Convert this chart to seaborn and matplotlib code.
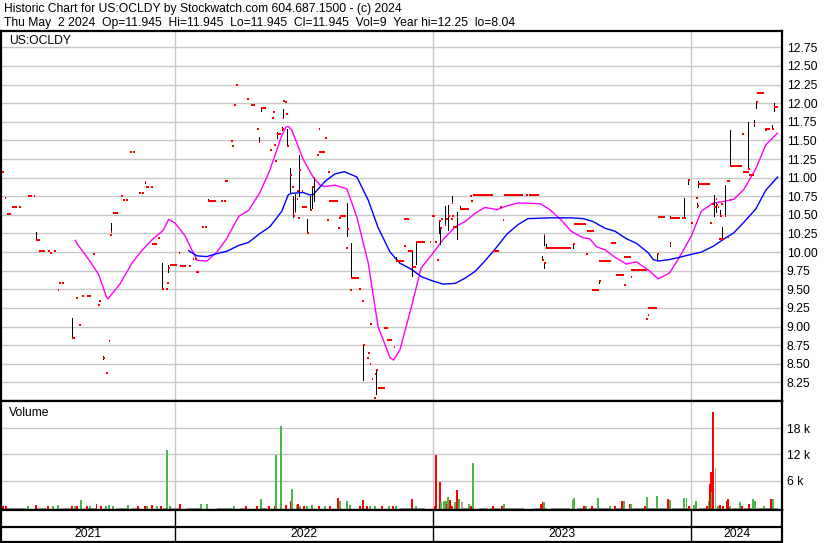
import pandas as pd
import matplotlib
matplotlib.use("Agg")
import matplotlib.pyplot as plt
import seaborn as sns

# --- Data ---
# red close ticks (single trading days)
tick_dates = [
    "2021-05-02", "2021-05-05", "2021-05-26", "2021-06-15", "2021-06-19", "2021-06-22", "2021-07-06",
    "2021-07-08", "2021-07-14", "2021-07-19", "2021-07-21", "2021-07-25", "2021-08-09", "2021-08-14",
    "2021-08-18", "2021-08-23", "2021-09-07", "2021-09-14", "2021-09-21", "2021-09-26", "2021-09-29",
    "2021-10-01", "2021-10-02", "2021-10-17", "2021-10-20", "2021-10-24", "2021-10-29", "2021-11-03",
    "2021-11-11", "2021-11-15", "2021-11-19", "2021-11-28", "2021-12-08", "2021-12-14", "2021-12-19",
    "2021-12-21", "2021-12-22", "2022-01-06", "2022-01-21", "2022-01-26", "2022-01-29", "2022-02-08",
    "2022-02-12", "2022-02-16", "2022-03-07", "2022-03-11", "2022-03-21", "2022-03-23", "2022-03-26",
    "2022-03-28", "2022-04-13", "2022-04-27", "2022-04-29", "2022-05-03", "2022-05-15", "2022-05-18",
    "2022-05-20", "2022-05-21", "2022-05-23", "2022-05-25", "2022-06-01", "2022-06-02", "2022-06-03",
    "2022-06-06", "2022-06-07", "2022-06-08", "2022-06-13", "2022-06-15", "2022-06-17", "2022-06-19",
    "2022-06-22", "2022-06-23", "2022-06-24", "2022-06-25", "2022-06-29", "2022-07-07", "2022-07-11",
    "2022-07-14", "2022-07-16", "2022-07-21", "2022-07-23", "2022-08-01", "2022-08-04", "2022-08-05",
    "2022-08-20", "2022-08-21", "2022-08-31", "2022-09-01", "2022-09-06", "2022-09-07", "2022-09-18",
    "2022-09-22", "2022-09-24", "2022-09-29", "2022-10-01", "2022-10-03", "2022-10-04", "2022-10-06",
    "2022-10-09", "2022-10-10", "2022-10-12", "2022-11-06", "2022-11-10", "2022-11-21", "2022-12-02",
    "2022-12-08", "2022-12-27", "2023-01-04", "2023-01-06", "2023-01-09", "2023-01-11", "2023-01-12",
    "2023-01-17", "2023-01-19", "2023-01-22", "2023-01-26", "2023-01-27", "2023-01-28", "2023-02-03",
    "2023-02-08", "2023-02-22", "2023-02-24", "2023-04-06", "2023-04-09", "2023-05-12", "2023-06-04",
    "2023-06-06", "2023-06-07", "2023-06-09", "2023-07-18", "2023-08-05", "2023-08-23", "2023-09-28",
    "2023-10-07", "2023-10-29", "2023-10-31", "2023-11-14", "2023-12-01", "2023-12-02", "2023-12-22",
    "2023-12-27", "2024-01-01", "2024-01-07", "2024-01-08", "2024-01-09", "2024-01-10", "2024-01-27",
    "2024-01-30", "2024-02-02", "2024-02-04", "2024-02-05", "2024-02-07", "2024-02-11", "2024-02-12",
    "2024-02-13", "2024-02-17", "2024-02-20", "2024-02-21", "2024-02-22", "2024-02-24", "2024-02-25",
    "2024-03-13", "2024-03-21", "2024-03-29", "2024-04-01", "2024-04-14", "2024-04-24", "2024-04-26",
]
tick_close = [
    11.07, 10.73, 10.60, 10.76, 10.16, 10.16, 10.02,
    9.99, 10.01, 9.49, 9.58, 9.58, 8.84, 9.39,
    9.02, 9.41, 9.98, 9.29, 8.58, 8.37, 8.81,
    10.23, 10.27, 10.76, 10.70, 10.70, 11.34, 11.34,
    10.80, 10.80, 10.94, 10.87, 10.19, 9.50, 9.50,
    9.58, 9.78, 9.99, 9.82, 9.91, 9.91, 10.34,
    10.34, 10.69, 10.69, 10.69, 11.49, 11.42, 11.98,
    12.25, 12.05, 11.65, 11.48, 11.93, 11.37, 11.80,
    11.88, 11.44, 11.22, 11.59, 11.66, 11.80, 12.03,
    12.01, 11.85, 11.42, 11.03, 10.88, 10.48, 10.54,
    10.72, 10.82, 10.46, 11.10, 10.82, 10.26, 10.56,
    10.88, 11.00, 11.30, 11.66, 11.53, 10.43, 11.07,
    10.33, 10.46, 10.06, 10.31, 9.49, 9.65, 9.51,
    9.34, 8.75, 8.58, 8.65, 8.50, 9.03, 8.30,
    8.04, 8.36, 8.42, 8.72, 9.88, 10.08, 9.80,
    10.14, 10.14, 10.13, 9.89, 10.42, 10.33, 10.45,
    10.37, 10.45, 10.48, 10.45, 10.66, 10.49, 10.47,
    10.58, 10.75, 10.69, 10.61, 10.43, 10.77, 9.90,
    10.23, 9.85, 10.05, 10.11, 9.97, 9.61, 9.56,
    9.66, 9.10, 9.16, 9.97, 10.10, 10.46, 10.46,
    10.97, 10.39, 10.39, 10.73, 10.62, 10.92, 10.39,
    10.64, 10.61, 10.72, 10.63, 10.61, 10.48, 10.64,
    10.18, 10.48, 10.95, 10.20, 10.95, 10.70, 11.16,
    11.58, 11.12, 11.72, 12.02, 11.64, 11.66, 11.945,
]

# black high-low lines
range_dates = [
    "2021-06-19", "2021-08-09", "2021-09-21", "2021-10-02", "2021-11-19", "2021-12-14", "2021-12-22",
    "2022-02-16", "2022-04-29", "2022-05-03", "2022-05-25", "2022-06-01", "2022-06-02", "2022-06-08",
    "2022-06-13", "2022-06-17", "2022-06-19", "2022-06-25", "2022-07-07", "2022-07-11", "2022-07-14",
    "2022-07-16", "2022-09-01", "2022-09-07", "2022-09-24", "2022-10-12", "2022-11-10", "2022-12-02",
    "2022-12-08", "2023-01-09", "2023-01-11", "2023-01-17", "2023-01-22", "2023-01-27", "2023-02-03",
    "2023-02-08", "2023-06-04", "2023-06-06", "2023-06-07", "2023-06-09", "2023-07-18", "2023-08-23",
    "2023-11-14", "2023-12-01", "2023-12-02", "2023-12-22", "2023-12-27", "2024-01-09", "2024-01-10",
    "2024-02-02", "2024-02-05", "2024-02-11", "2024-02-13", "2024-02-17", "2024-02-25", "2024-03-21",
    "2024-03-29", "2024-04-01", "2024-04-24", "2024-04-26",
]
range_low = [
    10.16, 8.84, 8.56, 10.27, 10.93, 9.50, 9.73,
    10.69, 11.48, 11.90, 11.53, 11.64, 11.80, 11.42,
    10.81, 10.47, 10.54, 10.75, 10.26, 10.56, 10.59,
    10.69, 10.21, 9.65, 8.28, 8.10, 9.88, 9.68,
    9.84, 10.25, 10.11, 10.37, 10.30, 10.66, 10.18,
    10.58, 9.90, 10.10, 9.79, 10.05, 10.05, 9.58,
    9.91, 10.08, 10.46, 10.46, 10.91, 10.60, 10.88,
    10.48, 10.54, 10.48, 10.18, 10.48, 11.16, 11.12,
    11.69, 11.93, 11.66, 11.90,
]
range_high = [
    10.27, 9.11, 8.60, 10.39, 10.96, 9.85, 9.83,
    10.71, 11.55, 11.95, 11.62, 11.68, 11.92, 11.65,
    11.13, 10.75, 10.78, 11.31, 10.45, 10.75, 10.88,
    11.00, 10.66, 10.12, 8.77, 8.42, 9.93, 10.00,
    10.14, 10.42, 10.33, 10.62, 10.63, 10.75, 10.54,
    10.62, 9.95, 10.23, 9.87, 10.11, 10.11, 9.63,
    9.97, 10.13, 10.49, 10.73, 10.97, 10.66, 10.96,
    10.77, 10.66, 10.56, 10.34, 10.90, 11.64, 11.75,
    11.77, 12.02, 11.71, 12.00,
]

# stretches of days at an unchanged close
run_start = [
    "2021-05-08", "2021-05-16", "2021-06-07", "2021-06-23", "2021-08-09", "2021-08-30", "2021-09-15",
    "2021-10-06", "2021-11-21", "2021-11-30", "2021-12-25", "2022-01-08", "2022-01-30", "2022-02-16",
    "2022-03-12", "2022-04-19", "2022-05-04", "2022-05-25", "2022-06-30", "2022-07-23", "2022-08-06",
    "2022-08-22", "2022-09-07", "2022-10-15", "2022-10-24", "2022-10-28", "2022-11-10", "2022-11-21",
    "2022-11-27", "2022-12-02", "2022-12-08", "2022-12-30", "2023-01-29", "2023-02-08", "2023-02-26",
    "2023-03-26", "2023-04-11", "2023-05-17", "2023-06-09", "2023-07-19", "2023-08-06", "2023-08-14",
    "2023-08-23", "2023-09-09", "2023-09-16", "2023-09-28", "2023-10-07", "2023-11-01", "2023-11-15",
    "2023-12-02", "2023-12-18", "2024-01-11", "2024-02-09", "2024-02-25", "2024-03-14", "2024-03-22",
    "2024-04-02", "2024-04-14", "2024-04-26",
]
run_end = [
    "2021-05-14", "2021-05-23", "2021-06-13", "2021-07-01", "2021-08-13", "2021-09-04", "2021-09-19",
    "2021-10-12", "2021-11-25", "2021-12-07", "2022-01-04", "2022-01-17", "2022-02-04", "2022-02-28",
    "2022-03-17", "2022-04-24", "2022-05-09", "2022-05-31", "2022-07-06", "2022-08-01", "2022-08-20",
    "2022-08-30", "2022-09-18", "2022-10-25", "2022-10-29", "2022-11-04", "2022-11-20", "2022-11-28",
    "2022-12-03", "2022-12-08", "2022-12-21", "2023-01-04", "2023-02-03", "2023-02-21", "2023-03-26",
    "2023-04-04", "2023-05-08", "2023-05-31", "2023-07-15", "2023-08-05", "2023-08-16", "2023-08-23",
    "2023-09-09", "2023-09-17", "2023-09-27", "2023-10-07", "2023-10-30", "2023-11-14", "2023-11-24",
    "2023-12-16", "2023-12-24", "2024-01-27", "2024-02-16", "2024-03-12", "2024-03-22", "2024-03-29",
    "2024-04-12", "2024-04-21", "2024-05-03",
]
run_price = [
    10.51, 10.60, 10.76, 10.02, 8.84, 9.41, 9.34,
    10.52, 10.87, 10.11, 9.83, 9.82, 9.73, 10.69,
    10.96, 11.98, 11.93, 11.59, 10.61, 11.34, 10.69,
    10.48, 9.65, 8.17, 8.98, 8.82, 9.88, 10.44,
    10.02, 9.80, 10.14, 10.49, 10.34, 10.58, 10.77,
    10.02, 10.77, 10.77, 10.05, 10.38, 10.29, 9.49,
    9.88, 10.12, 9.69, 9.93, 9.76, 9.25, 10.47,
    10.46, 10.46, 10.92, 10.18, 11.16, 11.08, 11.03,
    12.14, 11.66, 11.945,
]

# moving averages (magenta = short, blue = long)
ma_short_dates = [
    "2021-08-13", "2021-08-15", "2021-09-01", "2021-09-15", "2021-09-26", "2021-09-28", "2021-10-15",
    "2021-11-01", "2021-11-15", "2021-12-01", "2021-12-15", "2021-12-23", "2022-01-01", "2022-01-15",
    "2022-02-01", "2022-02-15", "2022-03-01", "2022-03-15", "2022-04-01", "2022-04-15", "2022-05-01",
    "2022-05-15", "2022-06-01", "2022-06-07", "2022-06-10", "2022-06-15", "2022-07-01", "2022-07-15",
    "2022-07-25", "2022-08-01", "2022-08-15", "2022-09-01", "2022-09-15", "2022-10-01", "2022-10-15",
    "2022-11-01", "2022-11-06", "2022-11-15", "2022-12-01", "2022-12-15", "2023-01-01", "2023-01-15",
    "2023-02-01", "2023-02-15", "2023-03-01", "2023-03-15", "2023-04-01", "2023-04-15", "2023-05-01",
    "2023-06-01", "2023-06-15", "2023-07-01", "2023-07-15", "2023-08-01", "2023-08-10", "2023-08-20",
    "2023-09-01", "2023-09-15", "2023-10-01", "2023-10-15", "2023-11-01", "2023-11-15", "2023-12-01",
    "2023-12-15", "2024-01-01", "2024-01-15", "2024-02-01", "2024-02-15", "2024-03-01", "2024-03-15",
    "2024-04-01", "2024-04-15", "2024-05-02",
]
ma_short = [
    10.16, 10.12, 9.90, 9.70, 9.40, 9.37, 9.57,
    9.85, 10.02, 10.18, 10.29, 10.44, 10.39, 10.22,
    9.89, 9.88, 10.00, 10.18, 10.48, 10.56, 10.80,
    11.10, 11.57, 11.68, 11.69, 11.64, 11.25, 11.01,
    10.90, 10.88, 10.90, 10.85, 10.47, 9.86, 9.00,
    8.58, 8.55, 8.69, 9.26, 9.79, 9.99, 10.17,
    10.34, 10.41, 10.52, 10.60, 10.57, 10.62, 10.66,
    10.65, 10.57, 10.43, 10.28, 10.19, 10.18, 10.07,
    10.03, 9.93, 9.84, 9.87, 9.76, 9.64, 9.72,
    9.93, 10.22, 10.55, 10.66, 10.68, 10.71, 10.84,
    11.12, 11.44, 11.60,
]
ma_long_dates = [
    "2022-01-20", "2022-02-01", "2022-02-15", "2022-03-01", "2022-03-15", "2022-04-01", "2022-04-15",
    "2022-05-01", "2022-05-15", "2022-06-01", "2022-06-10", "2022-06-15", "2022-07-01", "2022-07-10",
    "2022-07-15", "2022-08-01", "2022-08-15", "2022-08-28", "2022-09-15", "2022-10-01", "2022-10-15",
    "2022-11-01", "2022-11-15", "2022-12-01", "2022-12-15", "2023-01-01", "2023-01-15", "2023-02-01",
    "2023-02-15", "2023-03-01", "2023-03-15", "2023-04-01", "2023-04-15", "2023-05-01", "2023-05-15",
    "2023-06-15", "2023-07-15", "2023-08-01", "2023-08-15", "2023-09-01", "2023-09-15", "2023-10-01",
    "2023-10-15", "2023-11-01", "2023-11-08", "2023-11-15", "2023-12-01", "2023-12-15", "2024-01-01",
    "2024-01-15", "2024-02-01", "2024-02-15", "2024-03-01", "2024-03-15", "2024-04-01", "2024-04-15",
    "2024-05-02",
]
ma_long = [
    10.02, 9.95, 9.94, 9.98, 10.01, 10.09, 10.13,
    10.25, 10.34, 10.55, 10.77, 10.79, 10.80, 10.77,
    10.77, 10.95, 11.05, 11.08, 11.01, 10.70, 10.33,
    10.00, 9.85, 9.77, 9.67, 9.61, 9.57, 9.58,
    9.65, 9.74, 9.88, 10.07, 10.24, 10.37, 10.45,
    10.46, 10.46, 10.45, 10.41, 10.32, 10.28, 10.18,
    10.12, 9.99, 9.90, 9.88, 9.90, 9.93, 9.97,
    10.00, 10.08, 10.17, 10.26, 10.40, 10.58, 10.83,
    11.01,
]

# volume (thousands of shares) and day direction
vol_dates = [
    "2021-05-03", "2021-05-07", "2021-06-07", "2021-06-18", "2021-07-06", "2021-07-13", "2021-07-19",
    "2021-08-08", "2021-08-13", "2021-08-16", "2021-08-21", "2021-08-30", "2021-09-03", "2021-09-12",
    "2021-09-18", "2021-09-26", "2021-09-29", "2021-10-05", "2021-10-27", "2021-11-09", "2021-11-19",
    "2021-11-22", "2021-11-29", "2021-12-06", "2021-12-12", "2021-12-20", "2021-12-25", "2022-01-08",
    "2022-02-07", "2022-02-15", "2022-03-25", "2022-04-11", "2022-04-27", "2022-05-03", "2022-05-14",
    "2022-05-22", "2022-05-24", "2022-05-31", "2022-06-07", "2022-06-14", "2022-06-16", "2022-06-22",
    "2022-06-24", "2022-06-27", "2022-07-02", "2022-07-06", "2022-07-13", "2022-07-24", "2022-08-01",
    "2022-08-08", "2022-08-19", "2022-08-22", "2022-09-01", "2022-09-06", "2022-09-20", "2022-09-24",
    "2022-09-29", "2022-10-04", "2022-10-11", "2022-10-20", "2022-10-30", "2022-11-05", "2022-11-10",
    "2022-12-02", "2022-12-08", "2023-01-03", "2023-01-05", "2023-01-10", "2023-01-12", "2023-01-16",
    "2023-01-19", "2023-01-20", "2023-01-22", "2023-01-25", "2023-01-28", "2023-02-01", "2023-02-03",
    "2023-02-07", "2023-02-10", "2023-02-20", "2023-02-23", "2023-02-26", "2023-03-26", "2023-04-08",
    "2023-04-11", "2023-06-03", "2023-06-05", "2023-06-07", "2023-07-17", "2023-07-19", "2023-08-02",
    "2023-08-05", "2023-08-13", "2023-08-22", "2023-09-08", "2023-09-15", "2023-09-25", "2023-09-27",
    "2023-10-06", "2023-10-07", "2023-10-28", "2023-10-30", "2023-11-13", "2023-11-29", "2023-12-01",
    "2023-12-22", "2023-12-25", "2023-12-29", "2024-01-04", "2024-01-07", "2024-01-08", "2024-01-23",
    "2024-01-26", "2024-01-27", "2024-01-28", "2024-01-30", "2024-02-01", "2024-02-04", "2024-02-07",
    "2024-02-11", "2024-02-15", "2024-02-20", "2024-02-22", "2024-02-24", "2024-03-10", "2024-03-12",
    "2024-03-22", "2024-03-28", "2024-03-31", "2024-04-12", "2024-04-23", "2024-04-25",
]
vol_k = [
    0.2, 0.2, 0.2, 0.3, 0.1, 0.1, 0.3,
    0.2, 0.2, 0.2, 1.5, 0.1, 0.2, 0.5,
    0.2, 0.2, 0.3, 0.2, 0.3, 0.2, 0.2,
    0.1, 0.3, 0.1, 0.2, 13.0, 0.1, 0.5,
    0.5, 0.7, 0.2, 0.1, 0.1, 1.7, 0.2,
    0.2, 11.8, 18.5, 0.3, 1.2, 4.0, 0.3,
    0.7, 0.2, 0.2, 0.2, 0.3, 0.2, 0.2,
    0.2, 1.9, 1.2, 1.3, 0.3, 0.1, 1.5,
    0.2, 0.2, 0.2, 0.2, 0.2, 0.2, 0.2,
    1.7, 0.2, 0.2, 11.8, 5.6, 1.0, 1.2,
    1.2, 0.7, 2.3, 1.5, 0.2, 1.1, 3.8,
    1.7, 1.0, 0.5, 0.1, 10.0, 0.1, 0.2,
    0.5, 0.5, 1.0, 1.0, 1.5, 1.9, 0.2,
    0.2, 0.1, 1.9, 0.2, 0.1, 1.2, 1.2,
    0.5, 0.5, 0.2, 2.2, 2.4, 1.7, 1.5,
    1.9, 1.9, 0.1, 0.3, 1.2, 1.2, 0.1,
    1.2, 5.1, 7.9, 3.4, 21.8, 8.8, 0.2,
    0.3, 0.2, 1.2, 1.7, 0.2, 1.0, 0.1,
    0.5, 1.7, 1.2, 0.2, 1.7, 1.7,
]
vol_dir = [
    "down", "down", "up", "down", "down", "up", "up",
    "down", "up", "down", "up", "down", "up", "down",
    "down", "up", "up", "up", "up", "down", "down",
    "up", "down", "up", "down", "up", "up", "down",
    "up", "up", "up", "down", "down", "up", "down",
    "down", "up", "up", "down", "down", "up", "up",
    "down", "up", "down", "up", "up", "down", "up",
    "down", "down", "up", "up", "up", "down", "down",
    "down", "up", "up", "down", "up", "down", "up",
    "down", "up", "down", "down", "down", "up", "up",
    "up", "down", "up", "down", "down", "up", "down",
    "up", "flat", "up", "down", "up", "down", "down",
    "up", "down", "down", "up", "up", "up", "down",
    "up", "down", "up", "up", "down", "down", "up",
    "down", "up", "down", "up", "up", "down", "up",
    "up", "up", "down", "up", "down", "up", "down",
    "up", "down", "down", "up", "down", "flat", "up",
    "down", "down", "down", "down", "up", "up", "down",
    "down", "up", "up", "up", "down", "up",
]

# quiet stretches (no trades, thin grey band at the base of the volume panel)
quiet_start = [
    "2021-05-08", "2021-06-19", "2021-07-22", "2021-08-27", "2021-10-10", "2021-11-01", "2021-12-15",
    "2021-12-25", "2022-01-18", "2022-03-01", "2022-04-03", "2022-05-04", "2022-11-15", "2023-02-11",
    "2023-03-06", "2023-03-23", "2023-04-13", "2023-05-23", "2023-06-16", "2023-07-23", "2023-08-09",
    "2023-09-13", "2023-10-11", "2023-12-05", "2024-01-11", "2024-02-28", "2024-03-15", "2024-04-03",
]
quiet_end = [
    "2021-06-05", "2021-07-03", "2021-08-08", "2021-09-12", "2021-10-25", "2021-11-12", "2021-12-20",
    "2022-01-08", "2022-02-05", "2022-03-25", "2022-04-12", "2022-05-11", "2022-12-21", "2023-02-20",
    "2023-03-18", "2023-04-06", "2023-05-09", "2023-06-11", "2023-07-14", "2023-08-04", "2023-09-08",
    "2023-09-27", "2023-11-28", "2023-12-31", "2024-01-26", "2024-03-08", "2024-03-29", "2024-05-02",
]

price_ticks = [8.25, 8.50, 8.75, 9.00, 9.25, 9.50, 9.75, 10.00, 10.25, 10.50,
               10.75, 11.00, 11.25, 11.50, 11.75, 12.00, 12.25, 12.50, 12.75]
vol_ticks = [6, 12, 18]
vol_tick_labels = ["6 k", "12 k", "18 k"]
year_starts = ["2022-01-01", "2023-01-01", "2024-01-01"]
year_labels = ["2021", "2022", "2023", "2024"]
x_range = ["2021-04-30", "2024-05-08"]

header1 = "Historic Chart for US:OCLDY by Stockwatch.com 604.687.1500 - (c) 2024"
header2 = ("Thu May  2 2024  Op=11.945  Hi=11.945  Lo=11.945  Cl=11.945  "
           "Vol=9  Year hi=12.25  lo=8.04")

# --- Style ---
sns.set_theme(style="white")
plt.rcParams['font.family'] = ['Liberation Sans', 'DejaVu Sans']
plt.rcParams['text.color'] = 'black'

GRID = '#c8c8c8'
RED = '#ff0000'
GREEN = '#4cb84c'
GREY = '#a8a8a8'
FS = 8.7

W, H = 830, 543


def box(x0, y0, x1, y1):
    return [x0 / W, 1 - y1 / H, (x1 - x0) / W, (y1 - y0) / H]


fig = plt.figure(figsize=(W / 100, H / 100), dpi=100)
ax_p = fig.add_axes(box(1, 31, 782, 401))
ax_v = fig.add_axes(box(1, 401, 782, 510), sharex=ax_p)
ax_b = fig.add_axes(box(1, 510, 782, 541.5), sharex=ax_p)

xr = pd.to_datetime(x_range)
ys = pd.to_datetime(year_starts)
day = pd.Timedelta(days=1)

# --- Price panel ---
ax_p.set_ylim(8.0, 12.97)
ax_p.set_yticks(price_ticks)
ax_p.set_yticklabels([f"{v:.2f}" for v in price_ticks])
ax_p.grid(axis='y', color=GRID, lw=1)
for d in ys:
    ax_p.axvline(d, color=GRID, lw=1, zorder=0)
ax_p.set_axisbelow(True)

sns.lineplot(x=pd.to_datetime(ma_short_dates), y=ma_short, ax=ax_p,
             color='#ff00ff', lw=1, estimator=None)
sns.lineplot(x=pd.to_datetime(ma_long_dates), y=ma_long, ax=ax_p,
             color='#0000ff', lw=1, estimator=None)

rd = pd.to_datetime(range_dates)
ax_p.vlines(rd, range_low, range_high, color='black', lw=0.72, zorder=3,
            antialiased=False)
td = pd.to_datetime(tick_dates)
ax_p.hlines(tick_close, td, td + 2.5 * day, color=RED, lw=1.3, zorder=4,
            antialiased=False)
ax_p.hlines(run_price, pd.to_datetime(run_start), pd.to_datetime(run_end),
            color=RED, lw=1.3, zorder=4, antialiased=False)

fig.text(9 / W, 1 - 41 / H, "US:OCLDY", fontsize=FS, va='center', ha='left')

# --- Volume panel ---
vbase = -0.77
ax_v.set_ylim(vbase, 24.3)
ax_v.set_yticks(vol_ticks)
ax_v.set_yticklabels(vol_tick_labels)
ax_v.grid(axis='y', color=GRID, lw=1)
for d in ys:
    ax_v.axvline(d, color=GRID, lw=1, zorder=0)
ax_v.set_axisbelow(True)

for s, e in zip(quiet_start, quiet_end):
    ax_v.axvspan(pd.Timestamp(s), pd.Timestamp(e), ymin=0, ymax=0.02,
                 color=GREY, lw=0, zorder=1)

vcol = {'up': GREEN, 'down': RED, 'flat': GREY}
vd = pd.to_datetime(vol_dates)
ax_v.bar(vd, [v - vbase for v in vol_k], bottom=vbase, width=2.8,
         color=[vcol[c] for c in vol_dir], lw=0, zorder=2, antialiased=False)

fig.text(9 / W, 1 - 413 / H, "Volume", fontsize=FS, va='center', ha='left')

# --- Year strip ---
ax_b.set_ylim(0, 1)
ax_b.axhline(0.476, color='black', lw=1.6)
for d in ys:
    ax_b.axvline(d, color='black', lw=1)
bounds = [xr[0]] + list(ys) + [xr[1]]
for i, lab in enumerate(year_labels):
    mid = bounds[i] + (bounds[i + 1] - bounds[i]) / 2
    ax_b.text(mid, 0.23, lab, ha='center', va='center', fontsize=FS)

# --- Axes cosmetics ---
ax_p.set_xlim(xr[0], xr[1])
for ax in (ax_p, ax_v, ax_b):
    ax.set_facecolor('white')
    ax.set_xlabel('')
    ax.set_ylabel('')
    for sp in ax.spines.values():
        sp.set_color('black')
        sp.set_linewidth(1.6)
    ax.tick_params(axis='x', bottom=False, labelbottom=False)
    ax.yaxis.tick_right()
    ax.tick_params(axis='y', length=0, pad=3.5, labelsize=FS, labelcolor='black')
ax_b.set_yticks([])

fig.text(4 / W, 1 - 9 / H, header1, fontsize=FS, va='center', ha='left')
fig.text(4 / W, 1 - 23 / H, header2, fontsize=FS, va='center', ha='left')

fig.savefig("out.png", dpi=100, facecolor='white')
